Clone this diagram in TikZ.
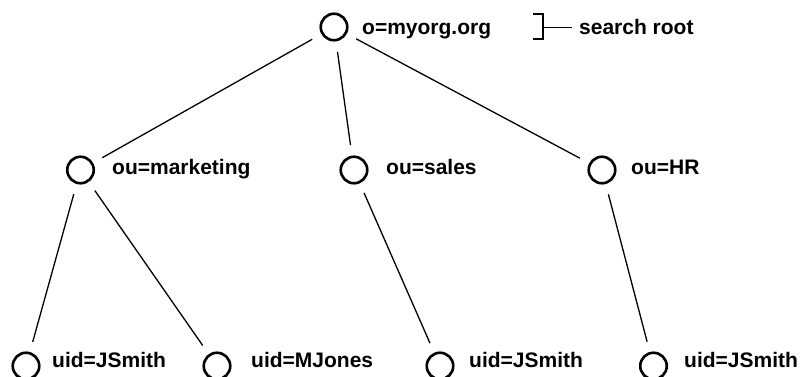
\documentclass[tikz,border=0pt]{standalone}
\usepackage{fontspec}
\setmainfont{Liberation Sans}
\begin{document}
\begin{tikzpicture}[x=1pt, y=-1pt,
  entry/.style={circle, draw, line width=2.6pt, minimum size=26.5pt, inner sep=0pt},
  dn/.style={anchor=base west, inner sep=0pt, font=\fontsize{21}{25}\selectfont\bfseries},
  link/.style={line width=1.3pt, shorten >=10.5pt, shorten <=10.5pt}]
\useasboundingbox (0,0) rectangle (801,377);

% directory entries
\node[entry] (root) at (334,27) {};
\node[entry] (mkt)  at (80.5,170) {};
\node[entry] (sal)  at (354,170) {};
\node[entry] (hr)   at (602,170) {};
\node[entry] (u1)   at (26,366) {};
\node[entry] (u2)   at (217,366) {};
\node[entry] (u3)   at (440,366) {};
\node[entry] (u4)   at (653.5,366) {};

% distinguished-name labels
\node[dn] (troot) at (362,35)  {o=myorg.org};
\node[dn] (tmkt)  at (112,175) {ou=marketing};
\node[dn] (tsal)  at (386,175) {ou=sales};
\node[dn] (thr)   at (631,175) {ou=HR};
\node[dn] (tu1)   at (52,367)  {uid=JSmith};
\node[dn] (tu2)   at (251,367) {uid=MJones};
\node[dn] (tu3)   at (469,367) {uid=JSmith};
\node[dn] (tu4)   at (684,367) {uid=JSmith};

% tree edges
\draw[link] (root) -- (mkt);
\draw[link] (root) -- (sal);
\draw[link] (root) -- (hr);
\draw[link] (mkt) -- (u1);
\draw[link] (mkt) -- (u2);
\draw[link] (sal) -- (u3);
\draw[link] (hr) -- (u4);

% bracket marking the search root
\node[dn] (tsr) at (579,35) {search root};
\coordinate (bt) at (533,14);
\coordinate (bb) at (533,39);
\coordinate (bm) at (543,27.5);
\coordinate (be) at (572,27.5);
\draw[line width=1.5pt] (bt) -- ++(10,0) |- (bb);
\draw[line width=1.5pt] (bm) -- (be);
\end{tikzpicture}
\end{document}
